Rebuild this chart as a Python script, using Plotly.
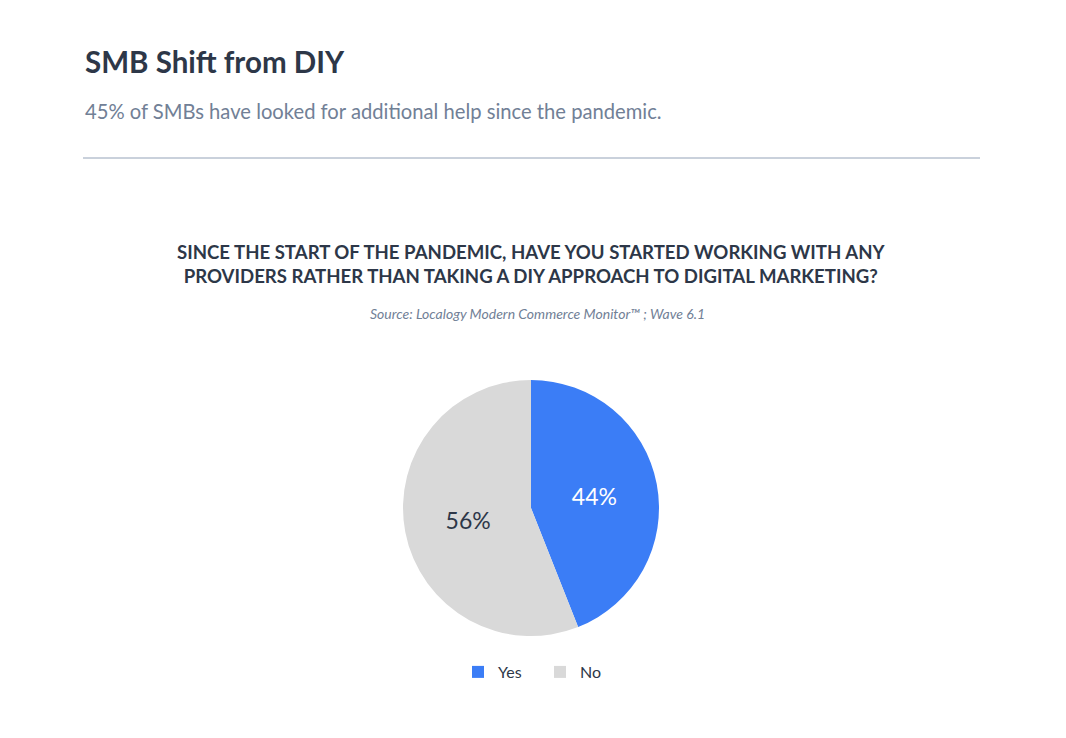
import plotly.graph_objects as go

labels = ["Yes", "No"]
values = [44, 56]
colors = ["#3B7DF6", "#D9D9D9"]
text_colors = ["#FFFFFF", "#2D3748"]

W, H = 1066, 738
OX, OY = 8, 8  # page body offset
FONT = "Lato"


def px(x):
    return (x - OX) / W


def py(y):
    return 1 - (y - OY) / H


fig = go.Figure()
fig.add_trace(go.Pie(
    labels=labels, values=values, sort=False, direction="clockwise", rotation=0,
    marker=dict(colors=colors, line=dict(width=0)),
    textinfo="percent", texttemplate="%{value}%", textposition="inside",
    insidetextfont=dict(color=text_colors, size=23, family=FONT),
    hoverinfo="label+percent",
    domain=dict(x=[px(403), px(659)], y=[py(636), py(380)]),
))

fig.update_layout(
    width=W, height=H,
    margin=dict(l=0, r=0, t=0, b=0),
    paper_bgcolor="white", plot_bgcolor="white",
    font=dict(family=FONT, color="#2D3748"),
    showlegend=True,
    legend=dict(orientation="h", x=px(540), xanchor="center", y=py(672), yanchor="middle",
                font=dict(size=16, color="#2D3748", family=FONT), itemwidth=30, tracegroupgap=0,
                entrywidth=37, entrywidthmode="pixels"),
    shapes=[dict(type="line", xref="paper", yref="paper", x0=px(83), x1=px(980),
                 y0=py(158), y1=py(158), line=dict(color="#94A3B8", width=1))],
    annotations=[
        dict(text="<b>SMB Shift from DIY</b>", xref="paper", yref="paper", x=px(83), y=py(62),
             xanchor="left", yanchor="middle", showarrow=False,
             font=dict(size=29.5, color="#2D3748", family=FONT)),
        dict(text="45% of SMBs have looked for additional help since the pandemic.", xref="paper", yref="paper",
             x=px(83), y=py(111), xanchor="left", yanchor="middle", showarrow=False,
             font=dict(size=20.2, color="#718096", family=FONT)),
        dict(text="<b>SINCE THE START OF THE PANDEMIC, HAVE YOU STARTED WORKING WITH ANY<br>PROVIDERS RATHER THAN TAKING A DIY APPROACH TO DIGITAL MARKETING?</b>",
             xref="paper", yref="paper", x=px(531), y=py(264), xanchor="center", yanchor="middle",
             showarrow=False, align="center",
             font=dict(size=18.6, color="#2D3748", family=FONT)),
        dict(text="<i>Source: Localogy Modern Commerce Monitor™ ; Wave 6.1</i>", xref="paper", yref="paper",
             x=px(537), y=py(314), xanchor="center", yanchor="middle", showarrow=False,
             font=dict(size=14, color="#718096", family=FONT)),
    ],
)

fig.write_html("out.html")
